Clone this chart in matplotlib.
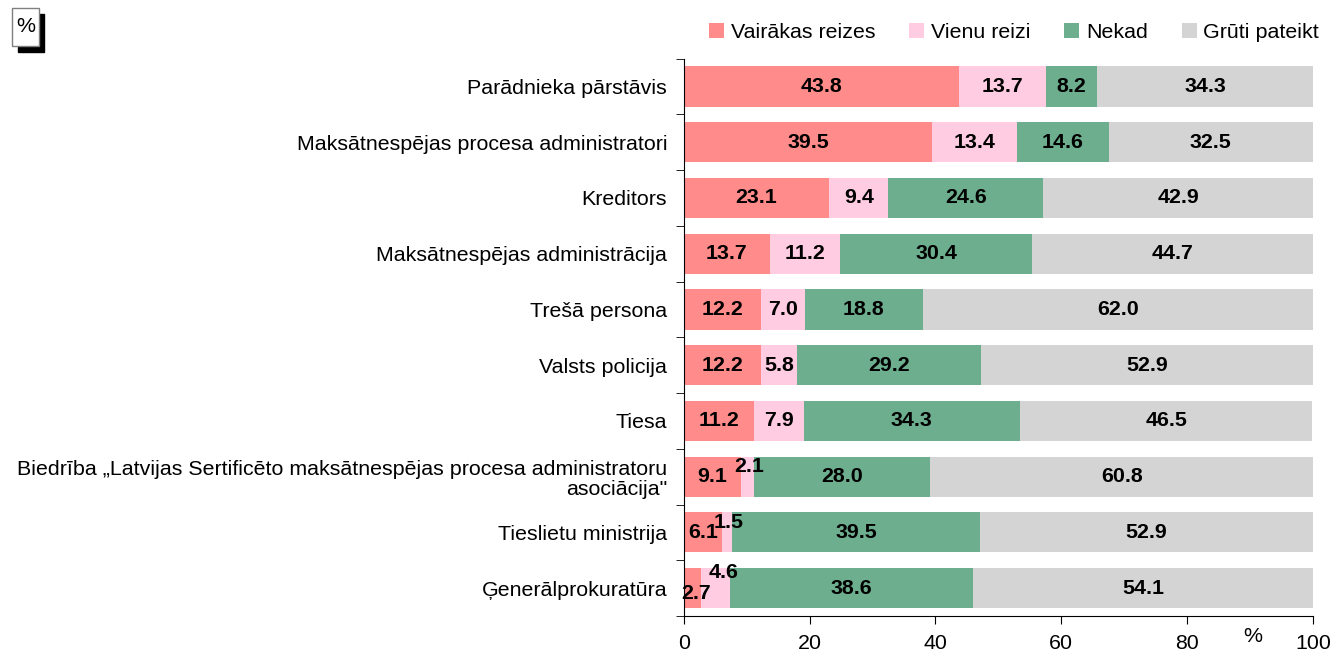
import matplotlib
matplotlib.use("Agg")
import matplotlib.pyplot as plt
from matplotlib.patches import Rectangle
import numpy as np

plt.rcParams['font.family'] = ['Liberation Sans', 'DejaVu Sans']

# dati
categories = [
    "Parādnieka pārstāvis",
    "Maksātnespējas procesa administratori",
    "Kreditors",
    "Maksātnespējas administrācija",
    "Trešā persona",
    "Valsts policija",
    "Tiesa",
    "Biedrība „Latvijas Sertificēto maksātnespējas procesa administratoru\nasociācija\"",
    "Tieslietu ministrija",
    "Ģenerālprokuratūra",
]
series_names = ["Vairākas reizes", "Vienu reizi", "Nekad", "Grūti pateikt"]
vairakas = [43.8, 39.5, 23.1, 13.7, 12.2, 12.2, 11.2, 9.1, 6.1, 2.7]
vienu = [13.7, 13.4, 9.4, 11.2, 7.0, 5.8, 7.9, 2.1, 1.5, 4.6]
nekad = [8.2, 14.6, 24.6, 30.4, 18.8, 29.2, 34.3, 28.0, 39.5, 38.6]
gruti = [34.3, 32.5, 42.9, 44.7, 62.0, 52.9, 46.5, 60.8, 52.9, 54.1]
x_ticks = [0, 20, 40, 60, 80, 100]

colors = ["#FF8C8A", "#FFCCE1", "#6DAE8E", "#D4D4D4"]
fs = 15.4

# nelielu vērtību etiķešu nobīde (punktos)
label_shift = {(7, 1): (1, 7), (8, 1): (1, 7), (9, 0): (3, -4), (9, 1): (6, 11)}

fig = plt.figure(figsize=(13.33, 6.55), dpi=100)
ax = fig.add_axes([0.513, 0.0595, 0.472, 0.851])

y = np.arange(len(categories))
data = [vairakas, vienu, nekad, gruti]
left = np.zeros(len(categories))
for s, (vals, c, name) in enumerate(zip(data, colors, series_names)):
    vals = np.array(vals)
    ax.barh(y, vals, left=left, height=0.72, color=c, label=name, linewidth=0)
    for i, v in enumerate(vals):
        dx, dy = label_shift.get((i, s), (0, 0))
        ax.annotate(f"{v:.1f}", (left[i] + v / 2, y[i]), xytext=(dx, dy),
                    textcoords="offset points", ha="center", va="center",
                    fontsize=fs, fontweight="bold", color="black")
    left += vals

ax.set_xlim(0, 100)
ax.set_ylim(len(categories) - 0.5, -0.5)
ax.set_xticks(x_ticks)
ax.tick_params(axis="x", labelsize=fs, direction="out", length=6, pad=7)
ax.set_yticks(y)
ax.set_yticklabels(categories, fontsize=fs, linespacing=1.1)
ax.tick_params(axis="y", which="major", length=0, pad=12)
ax.set_yticks(np.arange(-0.5, len(categories)), minor=True)
ax.tick_params(axis="y", which="minor", length=6, direction="out")
for t in ax.get_yticklabels():
    t.set_multialignment("right")

ax.spines["top"].set_visible(False)
ax.spines["right"].set_visible(False)

fig.text(0.9395, 0.028, "%", fontsize=fs, ha="center", va="center")

# leģenda
fig.legend(loc="upper right", bbox_to_anchor=(1.004, 0.995), ncol=4, frameon=False,
           fontsize=fs, handlelength=0.7, handleheight=0.7, handletextpad=0.3,
           columnspacing=1.6)

# "%" lodziņš augšējā kreisajā stūrī
fig.patches.append(Rectangle((18 / 1333, 1 - 52 / 655), 26 / 1333, 38 / 655,
                             transform=fig.transFigure, color="black", zorder=1))
fig.patches.append(Rectangle((12 / 1333, 1 - 46 / 655), 27 / 1333, 38 / 655,
                             transform=fig.transFigure, facecolor="white",
                             edgecolor="#808080", linewidth=1, zorder=2))
fig.text(25.5 / 1333, 1 - 27 / 655, "%", fontsize=fs, ha="center", va="center", zorder=3)

fig.savefig("out.png", dpi=100)
